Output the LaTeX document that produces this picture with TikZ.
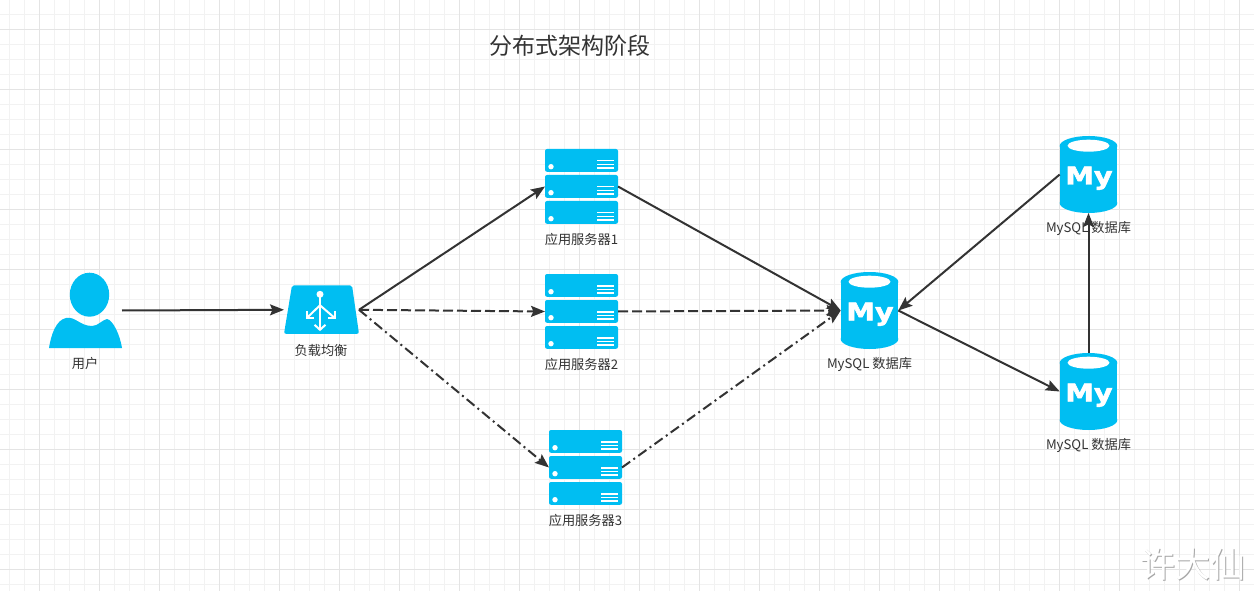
\documentclass[tikz,border=0pt]{standalone}
\usepackage{fontspec}
\setmainfont{Noto Sans CJK SC}
\newfontfamily\logofont[FakeBold=2]{DejaVu Sans Bold}
\usetikzlibrary{arrows.meta}
\definecolor{iconblue}{HTML}{00BEF2}
\definecolor{inkgrey}{HTML}{333333}
\definecolor{gridminor}{HTML}{F2F2F2}
\definecolor{gridmajor}{HTML}{E4E4E4}
\tikzset{link/.style={draw=inkgrey,line width=2pt,-{Stealth[length=14pt,width=11pt,inset=2.5pt]}}}
\tikzset{linkdash/.style={link,dash pattern=on 10pt off 4pt}}
\tikzset{linkdot/.style={link,dash pattern=on 10pt off 4pt on 2pt off 4pt}}
\tikzset{iconbox/.style={inner sep=0pt,outer sep=0pt,minimum width=#1}}
\tikzset{caption/.style={text=inkgrey,font=\fontsize{13.2}{15}\selectfont,inner sep=0pt}}
\tikzset{pics/servericon/.style={code={
	\foreach \rowtop in {-37.5,-11.5,14.5}{
		\begin{scope}[shift={(0,\rowtop)}]
			\fill[iconblue,rounded corners=2pt] (-36.5,0) rectangle (36.5,22.8);
			\fill[white] (-30.5,17.7) circle (2.7pt);
			\draw[white,line width=1.6pt] (15.5,11.7) -- (32,11.7);
			\draw[white,line width=1.6pt] (15.5,15.4) -- (32,15.4);
			\draw[white,line width=1.6pt] (15.5,19.2) -- (32,19.2);
		\end{scope}
	}
}}}
\tikzset{pics/dbicon/.style={code={
	\fill[iconblue] (-28.8,-28.5) rectangle (28.8,28.5);
	\fill[iconblue] (0,-28.5) ellipse (28.8pt and 10pt);
	\fill[iconblue] (0,28.5) ellipse (28.8pt and 10pt);
	\fill[white] (0,-28.8) ellipse (21pt and 6pt);
	\node[anchor=base,inner sep=0pt,text=white,xscale=1.17,font=\logofont\fontsize{24.5}{25}\selectfont] (-logo) at (0.5,10) {My};
}}}

\begin{document}
\begin{tikzpicture}[x=1pt,y=-1pt]
	\useasboundingbox (0,0) rectangle (1254,591);
	\fill[white] (0,0) rectangle (1254,591);
	% grid paper
	\foreach \gx in {9.5,24.5,...,1254}{\draw[gridminor,line width=1pt] (\gx,0) -- (\gx,591);}
	\foreach \gy in {14.5,29.5,...,591}{\draw[gridminor,line width=1pt] (0,\gy) -- (1254,\gy);}
	\foreach \gx in {39.5,99.5,...,1254}{\draw[gridmajor,line width=1pt] (\gx,0) -- (\gx,591);}
	\foreach \gy in {29.5,89.5,...,591}{\draw[gridmajor,line width=1pt] (0,\gy) -- (1254,\gy);}

	\node[text=inkgrey,inner sep=0pt,font=\fontsize{23}{25}\selectfont] (title) at (570,46) {分布式架构阶段};

	% anchors of the icons
	\node[iconbox=73pt,minimum height=75pt] (user) at (85.5,310.5) {};
	\node[iconbox=75pt,minimum height=49pt] (balancer) at (321.5,309.8) {};
	\node[iconbox=73pt,minimum height=75pt] (app1) at (581.5,186.5) {};
	\node[iconbox=73pt,minimum height=75pt] (app2) at (581.5,311.5) {};
	\node[iconbox=73pt,minimum height=75pt] (app3) at (585.5,467.5) {};
	\node[iconbox=57.6pt,minimum height=77pt] (dbmain) at (869.5,310.5) {};
	\node[iconbox=57.6pt,minimum height=77pt] (dbtop) at (1088.5,174.5) {};
	\node[iconbox=57.6pt,minimum height=77pt] (dbbottom) at (1088.5,391.5) {};

	% user
	\fill[iconblue] (user.center) ++(4,-15.8) ellipse (19.7pt and 22pt);
	\begin{scope}[shift={(user.center)}]
		\fill[iconblue] (-36.5,37.5) .. controls (-34.5,24.5) and (-29.5,9.5) .. (-19.5,7.5)
			.. controls (-10.5,5.5) and (-5.5,15.5) .. (6.5,15.5)
			.. controls (12.5,15.5) and (16.5,9.5) .. (21.5,8.5)
			.. controls (27.5,9.5) and (34.5,24.5) .. (36.5,37.5) -- cycle;
	\end{scope}

	% load balancer
	\begin{scope}[shift={(balancer.center)}]
		\fill[iconblue,rounded corners=2pt] (-29.5,-24.5) -- (30.5,-24.5) -- (37.5,24) -- (-37.5,24) -- cycle;
		\fill[white] (-1.5,-15.5) circle (3.5pt);
		\draw[white,line width=2pt] (-1.5,-15.5) -- (-1.5,20);
		\draw[white,line width=2pt] (-1.5,-4.5) -- (-14.5,8);
		\draw[white,line width=2pt] (-1.5,-4.5) -- (13,8);
		\draw[white,line width=2pt] (-7,15) -- (-1.5,20) -- (4,15);
		\draw[white,line width=2pt] (-14.5,1) -- (-14.5,8) -- (-8,8);
		\draw[white,line width=2pt] (13,1) -- (13,8) -- (6.5,8);
	\end{scope}

	\pic at (app1.center) {servericon};
	\pic at (app2.center) {servericon};
	\pic at (app3.center) {servericon};
	\pic (dbmainicon) at (dbmain.center) {dbicon};
	\pic (dbtopicon) at (dbtop.center) {dbicon};
	\pic (dbbottomicon) at (dbbottom.center) {dbicon};

	% captions
	\node[caption] (userlabel) at (85,363.5) {用户};
	\node[caption] (balancerlabel) at (321,350.5) {负载均衡};
	\node[caption] (app1label) at (581.5,239.5) {应用服务器1};
	\node[caption] (app2label) at (581.5,364.5) {应用服务器2};
	\node[caption] (app3label) at (585.5,520.5) {应用服务器3};
	\node[caption] (dbmainlabel) at (869.5,364.5) {MySQL 数据库};
	\node[caption] (dbtoplabel) at (1088.5,228.5) {MySQL 数据库};
	\node[caption] (dbbottomlabel) at (1088.5,445.5) {MySQL 数据库};

	% connectors
	\draw[link] (user.east) -- (balancer.west);
	\draw[link] (balancer.east) -- (app1.west);
	\draw[linkdash] (balancer.east) -- (app2.west);
	\draw[linkdot] (balancer.east) -- (app3.west);
	\draw[link] (app1.east) -- (dbmain.west);
	\draw[linkdash] (app2.east) -- (dbmain.west);
	\draw[linkdot] (app3.east) -- (dbmain.west);
	\draw[link] (dbtop.west) -- (dbmain.east);
	\draw[link] (dbmain.east) -- (dbbottom.west);
	\draw[link] (dbbottom.north) -- (dbtop.south);

	% watermark
	\node[text=black!35,inner sep=0pt,font=\fontsize{35}{37}\selectfont] (markshade) at (1194,565.5) {许大仙};
	\node[text=white,inner sep=0pt,font=\fontsize{35}{37}\selectfont] (mark) at (1193,564.5) {许大仙};
\end{tikzpicture}
\end{document}
